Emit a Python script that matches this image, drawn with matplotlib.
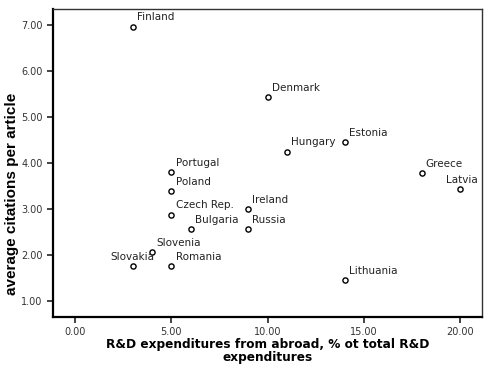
import matplotlib
matplotlib.use("Agg")
import matplotlib.pyplot as plt

# values
countries = ["Finland", "Denmark", "Estonia", "Hungary", "Greece", "Latvia",
             "Portugal", "Poland", "Ireland", "Czech Rep.", "Bulgaria", "Russia",
             "Slovenia", "Slovakia", "Romania", "Lithuania"]
rd_abroad = [3.0, 10.0, 14.0, 11.0, 18.0, 20.0,
             5.0, 5.0, 9.0, 5.0, 6.0, 9.0,
             4.0, 3.0, 5.0, 14.0]
citations = [6.97, 5.43, 4.46, 4.25, 3.78, 3.43,
             3.80, 3.39, 2.99, 2.88, 2.57, 2.56,
             2.07, 1.76, 1.76, 1.46]

xticks = [0, 5, 10, 15, 20]
yticks = [1, 2, 3, 4, 5, 6, 7]

# labels that are not placed up-right of their point
label_place = {"Slovakia": ((0, 3), "center"), "Latvia": ((1, 3), "center")}

fig = plt.figure(figsize=(4.93, 3.66), dpi=100)
ax = fig.add_axes([0.1075, 0.134, 0.8705, 0.841])

ax.scatter(rd_abroad, citations, s=14, facecolors="white", edgecolors="black",
           linewidths=1.0, zorder=3)
for name, xv, yv in zip(countries, rd_abroad, citations):
    off, ha = label_place.get(name, ((3, 3), "left"))
    ax.annotate(name, (xv, yv), xytext=off, textcoords="offset points",
                ha=ha, va="bottom", fontsize=7.5, color="#222222")

ax.set_xlim(-1.15, 21.15)
ax.set_ylim(0.65, 7.35)
ax.set_xticks(xticks)
ax.set_yticks(yticks)
ax.set_xticklabels(["%.2f" % v for v in xticks])
ax.set_yticklabels(["%.2f" % v for v in yticks])
ax.tick_params(labelsize=7, labelcolor="#333333", length=4, width=1.2, color="#222222")

for side in ["left", "bottom"]:
    ax.spines[side].set_linewidth(1.6)
for side in ["top", "right"]:
    ax.spines[side].set_linewidth(1.0)
    ax.spines[side].set_color("#333333")

ax.set_xlabel("R&D expenditures from abroad, % ot total R&D\nexpenditures",
              fontsize=8.7, fontweight="bold", linespacing=0.95, labelpad=0.5)
ax.set_ylabel("average citations per article", fontsize=11, fontweight="bold",
              family="Liberation Sans")
ax.yaxis.set_label_coords(-0.08, 0.40)

fig.savefig("out.png", dpi=100)
